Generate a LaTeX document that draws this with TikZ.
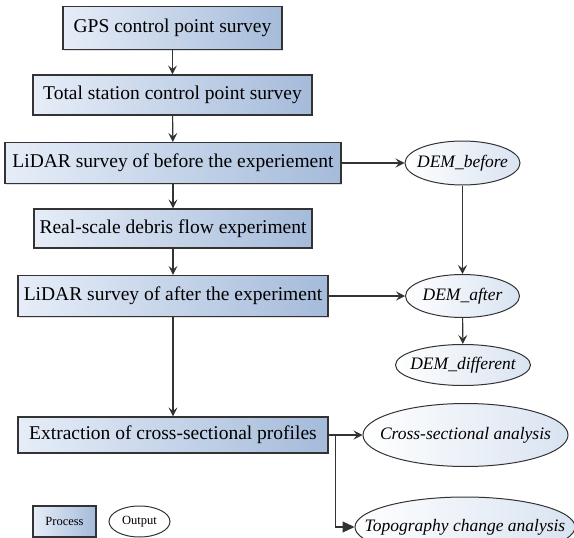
\documentclass[tikz,border=0pt]{standalone}
\usepackage{fontspec}
\setmainfont{Liberation Serif}
\usetikzlibrary{arrows.meta,shapes.geometric,shadows}
\definecolor{boxL}{HTML}{E6EDF8}
\definecolor{boxR}{HTML}{A5BBDA}
\definecolor{ellL}{HTML}{FFFFFF}
\definecolor{ellR}{HTML}{D9E3F1}
\definecolor{edge}{HTML}{333333}
\newcommand{\zw}[1]{\makebox[0pt]{#1}}
\tikzset{
  procbox/.style={draw=edge, line width=1.1pt, rectangle, inner sep=0pt,
    left color=boxL, right color=boxR, font=\fontsize{19.5}{22}\selectfont,
    drop shadow={opacity=0.25, shadow xshift=1pt, shadow yshift=-1pt}},
  outell/.style={draw=edge, line width=1pt, ellipse, inner sep=0pt,
    left color=ellL, right color=ellR, font=\fontsize{17.5}{20}\selectfont\itshape},
  arr/.style={draw=edge, line width=1.1pt, -{Stealth[length=9pt,width=9pt,inset=3.5pt]}},
  tri/.style={draw=edge, line width=1.1pt, -{Triangle[length=12pt,width=11pt]}},
}
\begin{document}
\begin{tikzpicture}[x=1pt,y=-1pt]
\useasboundingbox (0,0) rectangle (574,538);
\clip (0,0) rectangle (574,538);
% process boxes
\node[procbox, minimum width=219pt, minimum height=43pt] (gps) at (172.5,28) {GPS control point survey};
\node[procbox, minimum width=279pt, minimum height=40pt] (ts) at (172.5,95) {Total station control point survey};
\node[procbox, minimum width=336pt, minimum height=41pt] (lb) at (173,163) {LiDAR survey of before the experiement};
\node[procbox, minimum width=278pt, minimum height=39pt] (rs) at (173,228.5) {Real-scale debris flow experiment};
\node[procbox, minimum width=310pt, minimum height=41pt] (la) at (173,296) {LiDAR survey of after the experiment};
\node[procbox, minimum width=310pt, minimum height=36pt] (ex) at (173,435) {Extraction of cross-sectional profiles};
% outputs
\node[outell, minimum width=115pt, minimum height=44pt] (db) at (462.5,163) {\zw{DEM\_before}};
\node[outell, minimum width=114pt, minimum height=43pt] (da) at (462.5,296) {\zw{DEM\_after}};
\node[outell, minimum width=135pt, minimum height=41pt] (dd) at (463,365) {\zw{DEM\_different}};
\node[outell, minimum width=205pt, minimum height=63pt] (cs) at (465.5,435) {\zw{Cross-sectional analysis}};
\node[outell, minimum width=220pt, minimum height=60pt] (tc) at (465,527) {\zw{Topography change analysis}};
% legend
\node[procbox, minimum width=63pt, minimum height=31pt, font=\fontsize{12.5}{14}\selectfont] (lp) at (64.5,521.5) {Process};
\node[draw=edge, line width=1pt, ellipse, inner sep=0pt, fill=white, minimum width=61pt, minimum height=31pt, font=\fontsize{12.5}{14}\selectfont] (lo) at (139.5,521.5) {\zw{Output}};
% connectors
\draw[arr] (gps) -- (ts);
\draw[arr] (ts) -- (lb);
\draw[arr] (lb) -- (rs);
\draw[arr] (rs) -- (la);
\draw[arr] (la) -- (ex);
\draw[arr] (lb) -- (db);
\draw[arr] (la) -- (da);
\draw[arr] (db) -- (da);
\draw[arr] (da) -- (dd);
\draw[arr] (ex) -- (cs);
\draw[tri] (ex.east) -- ++(7,0) |- (tc.west);
\end{tikzpicture}
\end{document}
